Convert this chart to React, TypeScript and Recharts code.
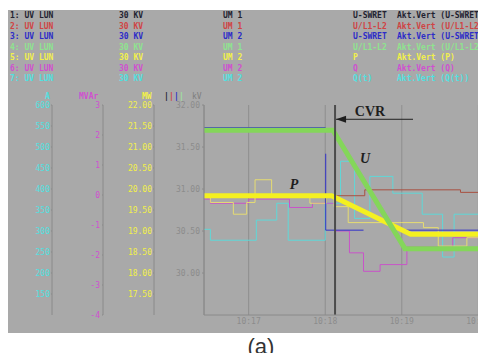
import React from 'react';
import {
  ComposedChart,
  Line,
  XAxis,
  YAxis,
  CartesianGrid,
  ReferenceLine,
  ReferenceDot,
} from 'recharts';

// time axis: seconds after 10:16:00
const timeTicks = [60, 120, 180, 240];
const timeLabels = ['10:17', '10:18', '10:19', '10:20'];

const kvTicks = [32, 31.5, 31, 30.5, 30];
const mwTicks = [22, 21.5, 21, 20.5, 20, 19.5, 19, 18.5, 18, 17.5];
const mvarTicks = [3, 2, 1, 0, -1, -2, -3, -4];
const ampTicks = [600, 550, 500, 450, 400, 350, 300, 250, 200, 150];

// channel list at the top of the screen
const channelNames = ['1: UV LUN', '2: UV LUN', '3: UV LUN', '4: UV LUN', '5: UV LUN', '6: UV LUN', '7: UV LUN'];
const channelLevels = ['30 KV', '30 KV', '30 KV', '30 KV', '30 KV', '30 KV', '30 KV'];
const channelUnits = ['UM 1', 'UM 1', 'UM 2', 'UM 1', 'UM 2', 'UM 2', 'UM 2'];
const channelSignals = ['U-SWRET', 'U/L1-L2', 'U-SWRET', 'U/L1-L2', 'P', 'Q', 'Q(t)'];
const channelValues = [
  'Akt.Vert (U-SWRET)',
  'Akt.Vert (U/L1-L2)',
  'Akt.Vert (U-SWRET)',
  'Akt.Vert (U/L1-L2)',
  'Akt.Vert (P)',
  'Akt.Vert (Q)',
  'Akt.Vert (Q(t))',
];
const channelColors = ['#222230', '#d04444', '#2c2cc8', '#8ee48e', '#f2f04a', '#d050d0', '#52e0e0'];

// thick trend sketches (kV scale)
const uTrend = [
  { t: 25, v: 31.7 },
  { t: 126, v: 31.7 },
  { t: 182.5, v: 30.29 },
  { t: 246, v: 30.29 },
];
const pTrend = [
  { t: 25, v: 30.92 },
  { t: 125, v: 30.92 },
  { t: 187, v: 30.46 },
  { t: 246, v: 30.46 },
];

// recorded channels
const blueTrace = [
  { t: 25, v: 31.73 },
  { t: 120.3, v: 31.73 },
  { t: 120.3, v: null },
  { t: 120.4, v: 31.42 },
  { t: 120.4, v: 30.51 },
  { t: 150, v: 30.51 },
  { t: 150, v: null },
  { t: 183, v: 30.51 },
  { t: 246, v: 30.51 },
];
const redTrace = [
  { t: 25, v: 30.92 },
  { t: 151, v: 30.99 },
  { t: 226, v: 30.96 },
  { t: 246, v: 30.96 },
];
const paleYellowTrace = [
  { t: 25, v: 30.91 },
  { t: 30, v: 30.84 },
  { t: 48, v: 30.7 },
  { t: 58.5, v: 30.84 },
  { t: 65, v: 31.11 },
  { t: 78, v: 30.92 },
  { t: 108, v: 30.83 },
  { t: 121, v: 30.92 },
  { t: 127, v: 30.79 },
  { t: 138, v: 30.6 },
  { t: 180, v: 30.6 },
  { t: 197, v: 30.54 },
  { t: 208.6, v: 30.32 },
  { t: 231, v: 30.42 },
  { t: 246, v: 30.42 },
];
const magentaTrace = [
  { t: 25, v: 30.88 },
  { t: 30, v: 30.83 },
  { t: 60, v: 30.88 },
  { t: 92, v: 30.78 },
  { t: 110, v: 30.83 },
  { t: 128, v: 30.5 },
  { t: 139, v: 30.24 },
  { t: 150, v: 30.02 },
  { t: 163, v: 30.1 },
  { t: 184, v: 30.31 },
  { t: 220, v: 30.42 },
  { t: 246, v: 30.42 },
];
const cyanTrace = [
  { t: 25, v: 30.52 },
  { t: 30, v: 30.39 },
  { t: 66, v: 30.63 },
  { t: 82, v: 30.83 },
  { t: 91, v: 30.39 },
  { t: 120, v: 30.83 },
  { t: 132, v: 31.33 },
  { t: 143, v: 30.65 },
  { t: 155, v: 31.15 },
  { t: 173, v: 30.95 },
  { t: 196, v: 30.7 },
  { t: 212, v: 30.19 },
  { t: 221, v: 30.7 },
  { t: 246, v: 30.7 },
];

const mono = '"DejaVu Sans Mono", monospace';
const serif = '"Liberation Serif", serif';
const axisGray = '#8a8a8a';

const textAt = (text: string) => (p: any) => (
  <text x={p.cx} y={p.cy} textAnchor="middle" dominantBaseline="central" fontFamily={serif} fontSize={14} fontWeight="bold" fontStyle={text === 'CVR' ? 'normal' : 'italic'} fill="#1e1e1e">
    {text}
  </text>
);

const arrowShape = (p: any) => {
  const { x1, y1, x2, y2 } = p;
  const left = Math.min(x1, x2);
  return (
    <g>
      <line x1={x1} y1={y1} x2={x2} y2={y2} stroke="#1e1e1e" strokeWidth={1} />
      <polygon points={`${left},${y1} ${left + 10},${y1 - 3.5} ${left + 10},${y1 + 3.5}`} fill="#1e1e1e" />
    </g>
  );
};

// axis ids sort so that the kV scale sits next to the plot
const KV = 'a_kv';
const MW = 'b_mw';
const MVAR = 'c_mvar';
const AMP = 'd_amp';

export default function App() {
  return (
    <div style={{ position: 'relative', width: 478, height: 345 }}>
      <div style={{ position: 'absolute', left: 0, top: 2, width: 478, height: 323, background: '#a9a9a9', overflow: 'hidden' }}>
        {channelNames.map((name, i) => (
          <div key={i} style={{ position: 'absolute', top: 1 + i * 10.5, left: 0, width: 478, height: 10.5, lineHeight: '10.5px', fontFamily: mono, fontSize: 8, fontWeight: 'bold', color: channelColors[i], whiteSpace: 'pre' }}>
            <span style={{ position: 'absolute', left: 2 }}>{name}</span>
            <span style={{ position: 'absolute', left: 111 }}>{channelLevels[i]}</span>
            <span style={{ position: 'absolute', left: 215 }}>{channelUnits[i]}</span>
            <span style={{ position: 'absolute', left: 345 }}>{channelSignals[i]}</span>
            <span style={{ position: 'absolute', left: 389 }}>{channelValues[i]}</span>
          </div>
        ))}
        <div style={{ position: 'absolute', top: 82, left: 0, width: 478, lineHeight: '10px', fontFamily: mono, fontSize: 8, fontWeight: 'bold', whiteSpace: 'pre' }}>
          <span style={{ position: 'absolute', left: 37, color: '#52e0e0' }}>A</span>
          <span style={{ position: 'absolute', left: 71, color: '#d050d0' }}>MVAr</span>
          <span style={{ position: 'absolute', left: 134, color: '#f2f04a' }}>MW</span>
          <span style={{ position: 'absolute', left: 156, color: '#222230' }}>|</span>
          <span style={{ position: 'absolute', left: 161, color: '#d04444' }}>|</span>
          <span style={{ position: 'absolute', left: 166, color: '#2c2cc8' }}>|</span>
          <span style={{ position: 'absolute', left: 171, color: '#9ee09e' }}>|</span>
          <span style={{ position: 'absolute', left: 184, color: '#7e7e7e', fontWeight: 'normal' }}>kV</span>
        </div>
        <div style={{ position: 'absolute', left: 0, top: 0 }}>
          <ComposedChart width={478} height={323} margin={{ top: 95, right: 0, bottom: 0, left: 0 }}>
            <CartesianGrid yAxisId={KV} horizontal={false} stroke="#8e8e8e" strokeWidth={1} />
            <XAxis
              dataKey="t"
              type="number"
              domain={[25, 246]}
              ticks={timeTicks}
              interval={0}
              allowDataOverflow
              tickFormatter={(v: number) => timeLabels[timeTicks.indexOf(v)] ?? ''}
              axisLine={{ stroke: axisGray }}
              tickLine={false}
              tickSize={0}
              tickMargin={3}
              height={18}
              tick={{ fontFamily: mono, fontSize: 8, fill: '#8c8c8c' }}
            />
            <YAxis
              yAxisId={KV}
              width={50}
              type="number"
              domain={[29.5, 32]}
              allowDataOverflow
              ticks={kvTicks}
              interval={0}
              tickFormatter={(v: number) => v.toFixed(2)}
              axisLine={{ stroke: axisGray }}
              tickLine={{ stroke: axisGray }}
              tickSize={2}
              tickMargin={2}
              tick={{ fontFamily: mono, fontSize: 8, fill: '#8c8c8c' }}
            />
            <YAxis
              yAxisId={MW}
              width={51}
              type="number"
              domain={[17, 22]}
              allowDataOverflow
              ticks={mwTicks}
              interval={0}
              tickFormatter={(v: number) => v.toFixed(2)}
              axisLine={{ stroke: axisGray }}
              tickLine={{ stroke: axisGray }}
              tickSize={1}
              tickMargin={1}
              tick={{ fontFamily: mono, fontSize: 8, fill: '#f2f04a' }}
            />
            <YAxis
              yAxisId={MVAR}
              width={51}
              type="number"
              domain={[-4, 3]}
              allowDataOverflow
              ticks={mvarTicks}
              interval={0}
              axisLine={{ stroke: axisGray }}
              tickLine={{ stroke: axisGray }}
              tickSize={1}
              tickMargin={2}
              tick={{ fontFamily: mono, fontSize: 8, fill: '#d050d0' }}
            />
            <YAxis
              yAxisId={AMP}
              width={44}
              type="number"
              domain={[100, 600]}
              allowDataOverflow
              ticks={ampTicks}
              interval={0}
              axisLine={{ stroke: axisGray }}
              tickLine={{ stroke: axisGray }}
              tickSize={1}
              tickMargin={1}
              tick={{ fontFamily: mono, fontSize: 8, fill: '#52e0e0' }}
            />
            <Line yAxisId={KV} data={cyanTrace} dataKey="v" type="stepAfter" stroke="#5fd8d8" strokeWidth={1} dot={false} isAnimationActive={false} />
            <Line yAxisId={KV} data={magentaTrace} dataKey="v" type="stepAfter" stroke="#c854c8" strokeWidth={1} dot={false} isAnimationActive={false} />
            <Line yAxisId={KV} data={paleYellowTrace} dataKey="v" type="stepAfter" stroke="#e6dc72" strokeWidth={1} dot={false} isAnimationActive={false} />
            <Line yAxisId={KV} data={redTrace} dataKey="v" type="stepAfter" stroke="#a85040" strokeWidth={1} dot={false} isAnimationActive={false} />
            <Line yAxisId={KV} data={blueTrace} dataKey="v" type="linear" stroke="#3030c8" strokeWidth={1} dot={false} connectNulls={false} isAnimationActive={false} />
            <Line yAxisId={KV} data={pTrend} dataKey="v" type="linear" stroke="#f4f020" strokeWidth={5} dot={false} isAnimationActive={false} />
            <Line yAxisId={KV} data={uTrend} dataKey="v" type="linear" stroke="#84d65a" strokeWidth={5} dot={false} isAnimationActive={false} />
            <ReferenceLine yAxisId={KV} x={127.7} stroke="#4c4c4c" strokeWidth={2} />
            <ReferenceLine
              yAxisId={KV}
              segment={[
                { x: 128.5, y: 31.83 },
                { x: 188.8, y: 31.83 },
              ]}
              shape={arrowShape}
            />
            <ReferenceDot yAxisId={KV} x={155.1} y={31.92} r={0} shape={textAt('CVR')} />
            <ReferenceDot yAxisId={KV} x={151.2} y={31.36} r={0} shape={textAt('U')} />
            <ReferenceDot yAxisId={KV} x={95.5} y={31.05} r={0} shape={textAt('P')} />
          </ComposedChart>
        </div>
      </div>
      <div style={{ position: 'absolute', top: 327, left: 223, width: 60, textAlign: 'center', fontFamily: '"Liberation Sans", Arial, sans-serif', fontSize: 22, lineHeight: '24px', color: '#333' }}>
        (a)
      </div>
    </div>
  );
}
